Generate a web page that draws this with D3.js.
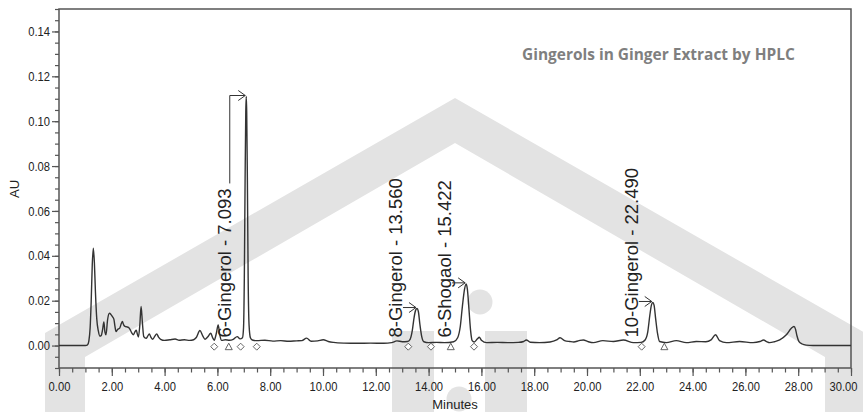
<!DOCTYPE html>
<head>
<meta charset="utf-8">
<style>
body { margin: 0; background: #fff; }
svg { display: block; }
.axis text {
  font-family: "Liberation Sans", Arial, sans-serif;
  font-size: 13px;
  fill: #222;
}
.axis path, .axis line { stroke: #555; }
.label {
  font-family: "Liberation Sans", Arial, sans-serif;
  font-size: 13px;
  fill: #222;
}
.peak-label {
  font-family: "Liberation Sans", Arial, sans-serif;
  font-size: 18.5px;
  fill: #222;
}
.title {
  font-family: "Open Sans", Lato, sans-serif;
  font-weight: bold;
  font-size: 13px;
  fill: #7f7f7f;
}
</style>
</head>
<body>
<svg width="863" height="412"></svg>
<script src="https://d3js.org/d3.v7.min.js"></script>
<script>

// chromatogram: [minutes, AU]
var chromatogram = [
  [0,0],[0.5,0],[1.0,0],[1.08,0.0003],[1.13,0.002],[1.18,0.008],[1.22,0.02],[1.26,0.036],
  [1.30,0.0434],[1.34,0.037],[1.38,0.024],[1.43,0.012],[1.49,0.0065],[1.55,0.0042],[1.6,0.0045],
  [1.65,0.007],[1.70,0.0105],[1.74,0.006],[1.78,0.0048],[1.84,0.0115],[1.91,0.0144],[1.97,0.0138],
  [2.03,0.0128],[2.08,0.0117],[2.12,0.0085],[2.16,0.0062],[2.22,0.0072],[2.3,0.0078],[2.36,0.0098],
  [2.40,0.0107],[2.45,0.0092],[2.5,0.0085],[2.57,0.0083],[2.63,0.0081],[2.69,0.0072],[2.75,0.0058],
  [2.82,0.0048],[2.88,0.0062],[2.93,0.0068],[2.97,0.005],[3.01,0.0038],[3.06,0.009],[3.11,0.0174],
  [3.16,0.01],[3.21,0.004],[3.3,0.0032],[3.36,0.0042],[3.42,0.0052],[3.48,0.0038],[3.55,0.0028],
  [3.63,0.0042],[3.7,0.0052],[3.77,0.0038],[3.85,0.0028],[4.0,0.0023],[4.2,0.0026],[4.4,0.0029],
  [4.55,0.0024],[4.75,0.0026],[4.95,0.0023],[5.1,0.0026],[5.2,0.0036],[5.34,0.0067],[5.45,0.0042],
  [5.53,0.0028],[5.63,0.0038],[5.75,0.0055],[5.82,0.0035],[5.88,0.0024],[5.96,0.0055],[6.03,0.0092],
  [6.09,0.0048],[6.16,0.0023],[6.3,0.0026],[6.45,0.0024],[6.6,0.0028],[6.75,0.0040],[6.86,0.003],
  [6.95,0.0035],[6.99,0.008],[7.02,0.03],[7.05,0.075],[7.075,0.104],[7.093,0.111],[7.11,0.104],
  [7.135,0.075],[7.165,0.03],[7.2,0.009],[7.25,0.0035],[7.32,0.0025],[7.5,0.0022],[7.8,0.0024],
  [8.1,0.002],[8.4,0.0022],[8.7,0.0019],[9.0,0.0021],[9.2,0.0022],[9.38,0.0033],[9.55,0.0019],
  [9.8,0.0021],[10.01,0.0026],[10.2,0.0018],[10.4,0.0014],[10.8,0.0011],[11.3,0.0010],[11.8,0.0011],
  [12.3,0.0010],[12.6,0.0013],[12.8,0.0021],[13.0,0.0017],[13.2,0.0018],[13.3,0.0028],[13.38,0.0065],
  [13.45,0.0125],[13.51,0.0158],[13.56,0.0165],[13.61,0.0153],[13.67,0.0095],[13.74,0.004],
  [13.82,0.0017],[14.0,0.0013],[14.3,0.0014],[14.6,0.0013],[14.95,0.0017],[15.1,0.0035],[15.2,0.0085],
  [15.28,0.0175],[15.36,0.025],[15.422,0.0275],[15.47,0.025],[15.53,0.016],[15.59,0.0068],
  [15.65,0.0022],[15.73,0.0016],[15.85,0.003],[15.92,0.0037],[16.0,0.0024],[16.2,0.0013],
  [16.6,0.0014],[17.0,0.0013],[17.4,0.0014],[17.6,0.0018],[17.7,0.0025],[17.85,0.0015],[18.2,0.0013],
  [18.6,0.0016],[18.85,0.0025],[18.98,0.0035],[19.15,0.0022],[19.35,0.0018],[19.5,0.0016],
  [19.7,0.0022],[19.86,0.0025],[20.05,0.0017],[20.24,0.0013],[20.6,0.0022],[21.0,0.0018],
  [21.38,0.0025],[21.76,0.0013],[22.05,0.0014],[22.2,0.0025],[22.3,0.006],[22.38,0.0135],
  [22.44,0.018],[22.49,0.0192],[22.54,0.018],[22.6,0.012],[22.67,0.0055],[22.75,0.0018],[23.0,0.0013],
  [23.38,0.0022],[23.76,0.0013],[24.14,0.0018],[24.5,0.0017],[24.7,0.0025],[24.87,0.0048],
  [25.02,0.0022],[25.28,0.0013],[25.78,0.0018],[26.29,0.0013],[26.55,0.0018],[26.69,0.0025],
  [26.8,0.0018],[26.92,0.0013],[27.1,0.0017],[27.3,0.0025],[27.55,0.0048],[27.74,0.0077],
  [27.84,0.0085],[27.9,0.0072],[27.95,0.0045],[28.03,0.0018],[28.15,0.0007],[28.3,0.0002],
  [28.56,0],[30,0]
];

var peakNames   = ["6-Gingerol", "8-Gingerol", "6-Shogaol", "10-Gingerol"];
var peakTimes   = [7.093, 13.560, 15.422, 22.490];
var peakHeights = [0.111, 0.0165, 0.0275, 0.0192];

// integration marks under the baseline
var diamondTimes  = [5.88, 6.88, 7.49, 13.23, 14.09, 15.72, 22.07];
var triangleTimes = [6.43, 14.84, 22.93];

var xTicks = [0, 2, 4, 6, 8, 10, 12, 14, 16, 18, 20, 22, 24, 26, 28, 30];
var yTicks = [0, 0.02, 0.04, 0.06, 0.08, 0.10, 0.12, 0.14];

var svg = d3.select("svg");

// watermark behind everything
var wm = svg.append("g").attr("fill", "#e3e3e3");
wm.append("polygon")
    .attr("points", "45,412 45,333 455,98 865,333 865,412 825,412 825,357 455,143 85,357 85,412");
wm.append("rect").attr("x", 392).attr("y", 331).attr("width", 42).attr("height", 90);
wm.append("rect").attr("x", 485).attr("y", 331).attr("width", 42).attr("height", 90);
wm.append("circle").attr("cx", 480).attr("cy", 302).attr("r", 12.5);
wm.append("circle").attr("cx", 459).attr("cy", 399).attr("r", 12.5);

var x = d3.scaleLinear().domain([0, 30]).range([59, 851]);
var y = d3.scaleLinear().domain([-0.01, 0.15]).range([368, 9]);

// minor ticks
svg.append("g")
    .attr("class", "axis")
    .attr("transform", "translate(0,368)")
    .call(d3.axisBottom(x).tickValues(d3.range(0, 30.01, 0.5)).tickSize(4.5).tickFormat(""))
    .select(".domain").remove();
svg.append("g")
    .attr("class", "axis")
    .attr("transform", "translate(59,0)")
    .call(d3.axisLeft(y).tickValues(d3.range(-0.01, 0.1501, 0.005)).tickSize(4).tickFormat(""))
    .select(".domain").remove();

var xAxis = svg.append("g")
    .attr("class", "axis")
    .attr("transform", "translate(0,368)")
    .call(d3.axisBottom(x).tickValues(xTicks).tickSize(8).tickPadding(6).tickFormat(d3.format(".2f")));
xAxis.select(".domain").remove();

var yAxis = svg.append("g")
    .attr("class", "axis")
    .attr("transform", "translate(59,0)")
    .call(d3.axisLeft(y).tickValues(yTicks).tickSize(7).tickPadding(2).tickFormat(d3.format(".2f")));
yAxis.select(".domain").remove();

svg.selectAll(".axis line").attr("stroke-width", 1.2);

// the original tick labels are a narrow face: squeeze them a bit
svg.selectAll(".axis text").each(function() {
  var w = this.getComputedTextLength();
  d3.select(this).attr("textLength", w * 0.86).attr("lengthAdjust", "spacingAndGlyphs");
});

// last label sits on the right edge: keep it inside the page
xAxis.selectAll(".tick text")
    .filter(function(d) { return d === 30; })
    .attr("text-anchor", "end")
    .attr("x", 6);

// frame
svg.append("rect")
    .attr("x", 59).attr("y", 9)
    .attr("width", 851 - 59).attr("height", 368 - 9)
    .attr("fill", "none")
    .attr("stroke", "#555")
    .attr("stroke-width", 1.5);

svg.append("text")
    .attr("class", "label")
    .attr("transform", "translate(19,189) rotate(-90)")
    .attr("text-anchor", "middle")
    .text("AU");

svg.append("text")
    .attr("class", "label")
    .attr("x", 455).attr("y", 409)
    .attr("text-anchor", "middle")
    .text("Minutes");

var title = svg.append("text")
    .attr("class", "title")
    .attr("x", 522).attr("y", 60)
    .text("Gingerols in Ginger Extract by HPLC");
// fit the title to the width it has in the picture
var tw = title.node().getComputedTextLength();
title.style("font-size", (13 * 273 / tw) + "px");

// trace
var line = d3.line()
    .x(function(d) { return x(d[0]); })
    .y(function(d) { return y(d[1]); })
    .curve(d3.curveMonotoneX);

svg.append("path")
    .datum(chromatogram)
    .attr("fill", "none")
    .attr("stroke", "#333")
    .attr("stroke-width", 1.4)
    .attr("stroke-linejoin", "round")
    .attr("d", line);

// integration markers
var markY = y(-0.0005);
svg.selectAll(".diamond")
    .data(diamondTimes)
    .enter().append("path")
      .attr("class", "diamond")
      .attr("transform", function(d) { return "translate(" + x(d) + "," + markY + ")"; })
      .attr("d", "M0,-3.5L3.5,0L0,3.5L-3.5,0Z")
      .attr("fill", "#fff")
      .attr("stroke", "#555")
      .attr("stroke-width", 0.9);
svg.selectAll(".triangle")
    .data(triangleTimes)
    .enter().append("path")
      .attr("class", "triangle")
      .attr("transform", function(d) { return "translate(" + x(d) + "," + markY + ")"; })
      .attr("d", "M0,-3.5L3.5,3L-3.5,3Z")
      .attr("fill", "#fff")
      .attr("stroke", "#555")
      .attr("stroke-width", 0.9);

// peak labels with arrows
peakNames.forEach(function(name, i) {
  var px = x(peakTimes[i]),
      py = y(peakHeights[i]),
      tx = px - 15,
      ty = y(0) - 8;

  var t = svg.append("text")
      .attr("class", "peak-label")
      .attr("transform", "translate(" + tx + "," + ty + ") rotate(-90)")
      .text(name + " - " + peakTimes[i].toFixed(3));

  var len = t.node().getComputedTextLength(),
      top = ty - len,
      lx = tx - 1.5;

  var pts;
  if (py < top - 6) {
    pts = [[lx, top - 5], [lx, py - 1], [px - 1, py - 1]];
  } else {
    lx = tx + 1;
    pts = [[lx, py - 1], [px - 1, py - 1]];
  }
  svg.append("path")
      .attr("d", d3.line()(pts))
      .attr("fill", "none")
      .attr("stroke", "#333")
      .attr("stroke-width", 1);
  svg.append("path")
      .attr("d", d3.line()([[px - 8, py - 6], [px - 1, py - 1], [px - 8, py + 4]]))
      .attr("fill", "none")
      .attr("stroke", "#333")
      .attr("stroke-width", 1);
});

</script>
</body>
